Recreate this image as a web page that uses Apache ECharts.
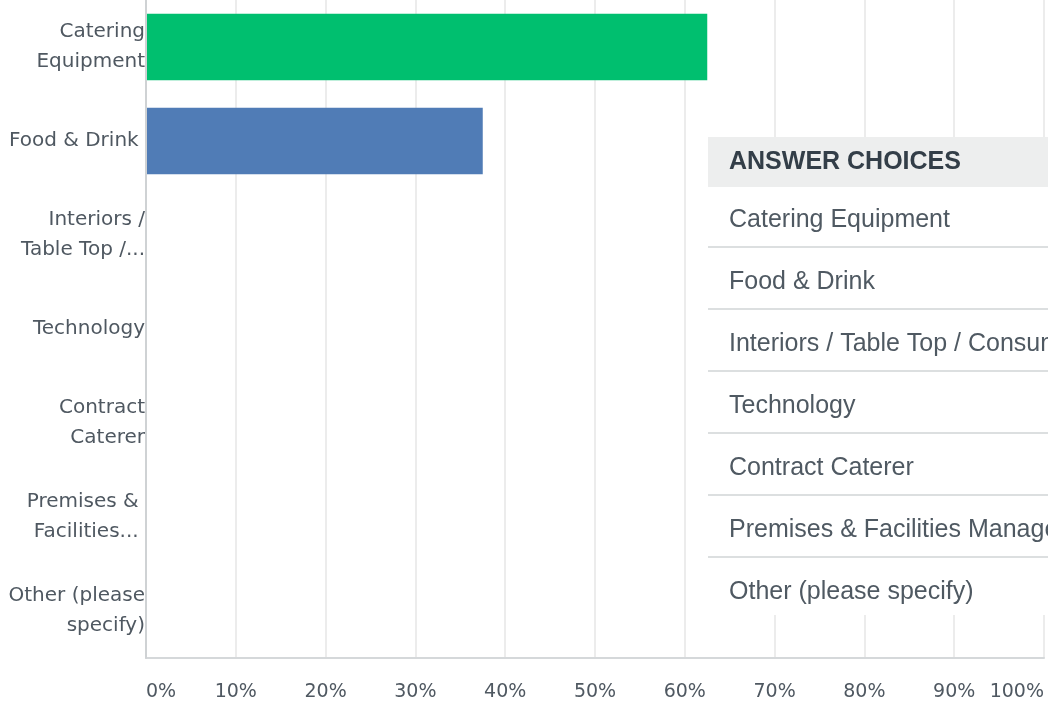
<!DOCTYPE html>
<html>
<head>
<meta charset="utf-8">
<script src="https://cdn.jsdelivr.net/npm/echarts@6/dist/echarts.min.js"></script>
<style>
  html, body { margin: 0; padding: 0; background: #fff; }
  #chart { width: 1048px; height: 703px; }
</style>
</head>
<body>
<div id="chart"></div>
<script>
// answer choices and the share of respondents (%) for each
const categories = [
  'Catering Equipment',
  'Food & Drink',
  'Interiors / Table Top / Consumables',
  'Technology',
  'Contract Caterer',
  'Premises & Facilities Management',
  'Other (please specify)'
];
const axisLabels = [
  'Catering\nEquipment',
  'Food & Drink ',
  'Interiors /\nTable Top /...',
  'Technology',
  'Contract\nCaterer',
  'Premises & \nFacilities... ',
  'Other (please\nspecify)'
];
const percents = [62.5, 37.5, 0, 0, 0, 0, 0];
const barColors = ['#00bf6f', '#507cb6', '#f9be00', '#6bc8cd', '#ff8b4f', '#7f7fff', '#ff5a5f'];
const tableHeader = 'ANSWER CHOICES';

const labelColor = '#4f5861';

// table on the right, drawn over the plot
const tableX = 708, headTop = 137, headH = 50, rowTop = 185, rowH = 62;
let tableParts = [
  { type: 'rect', z: 100, shape: { x: tableX, y: rowTop, width: 400, height: 430 }, style: { fill: '#fff' } },
  { type: 'rect', z: 101, shape: { x: tableX, y: headTop, width: 400, height: headH }, style: { fill: '#edeeee' } },
  {
    type: 'text', z: 102, x: 729, y: headTop + headH / 2,
    style: { text: tableHeader, font: 'bold 25px "Liberation Sans", Arial', fill: '#333e48', verticalAlign: 'middle' }
  }
];
categories.forEach((name, i) => {
  tableParts.push({
    type: 'text', z: 102, x: 729, y: rowTop + rowH * i + 35,
    style: { text: name, font: '25px "Liberation Sans", Arial', fill: '#4f5962', verticalAlign: 'middle' }
  });
  if (i < categories.length - 1) {
    tableParts.push({
      type: 'rect', z: 102, shape: { x: tableX, y: rowTop + rowH * (i + 1) - 1, width: 400, height: 2 },
      style: { fill: '#dcdfe0' }
    });
  }
});

let chart = echarts.init(document.getElementById('chart'));
chart.setOption({
  animation: false,
  grid: { left: 146, right: 4, top: 0, bottom: 45 },
  xAxis: {
    type: 'value',
    min: 0,
    max: 100,
    interval: 10,
    axisLine: { show: true, lineStyle: { color: '#d5d8da', width: 2 } },
    axisTick: { show: false },
    splitLine: { show: true, lineStyle: { color: '#ececec', width: 2 } },
    axisLabel: {
      formatter: '{value}%',
      color: labelColor,
      fontFamily: 'DejaVu Sans',
      fontSize: 19,
      margin: 25,
      alignMinLabel: 'left',
      alignMaxLabel: 'right'
    }
  },
  yAxis: {
    type: 'category',
    inverse: true,
    data: axisLabels,
    z: 5,
    axisLine: { show: true, lineStyle: { color: '#cfd2d4', width: 2 } },
    axisTick: { show: false },
    splitLine: { show: false },
    axisLabel: {
      color: labelColor,
      fontFamily: 'DejaVu Sans',
      fontSize: 20,
      lineHeight: 30,
      margin: 1,
      align: 'right'
    }
  },
  series: [{
    type: 'bar',
    barCategoryGap: '29%',
    data: percents.map((v, i) => ({
      value: v,
      itemStyle: { color: barColors[i] }
    }))
  }],
  graphic: tableParts
});
</script>
</body>
</html>
